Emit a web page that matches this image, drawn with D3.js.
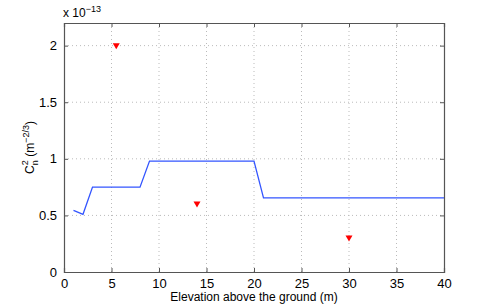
<!DOCTYPE html>
<html>
<head>
<meta charset="utf-8">
<script src="https://cdn.jsdelivr.net/npm/d3@7"></script>
<style>
  body { margin: 0; background: #fff; }
  text { font-family: "Liberation Sans", Arial, sans-serif; }
</style>
</head>
<body>
<div id="chart"></div>
<script>
// profile data (units of 1e-13)
const elevation = [1, 2, 3, 8, 9, 20, 21, 40];
const cn2Profile = [0.545, 0.51, 0.75, 0.75, 0.98, 0.98, 0.655, 0.655];
const measElevation = [5.5, 14, 30];
const measCn2 = [2.0, 0.6, 0.3];
const xTicks = [0, 5, 10, 15, 20, 25, 30, 35, 40];
const yTicks = [0, 0.5, 1, 1.5, 2];

const width = 491, height = 307;
const margin = {left: 64, right: 47, top: 23, bottom: 35};

const svg = d3.select('#chart').append('svg')
    .attr('width', width)
    .attr('height', height);

const x = d3.scaleLinear().domain([0, 40]).range([margin.left, width - margin.right]);
const y = d3.scaleLinear().domain([0, 2.2]).range([height - margin.bottom, margin.top]);

// grid
const grid = svg.append('g').attr('stroke', '#bbb').attr('stroke-dasharray', '1,3').attr('stroke-width', 1);
xTicks.slice(1, -1).forEach(t => {
    grid.append('line').attr('x1', x(t)).attr('x2', x(t)).attr('y1', y(0)).attr('y2', y(2.2));
});
yTicks.slice(1).forEach(t => {
    grid.append('line').attr('x1', x(0)).attr('x2', x(40)).attr('y1', y(t)).attr('y2', y(t));
});

// axes (ticks inward, box)
const axisColor = '#555';
const tickLen = 4;
svg.append('g').attr('transform', `translate(0,${y(0)})`)
    .call(d3.axisBottom(x).tickValues(xTicks).tickSize(-tickLen).tickPadding(7).tickFormat(d3.format('d')));
svg.append('g').attr('transform', `translate(0,${y(2.2)})`)
    .call(d3.axisTop(x).tickValues(xTicks).tickSize(-tickLen).tickFormat(''));
svg.append('g').attr('transform', `translate(${x(0)},0)`)
    .call(d3.axisLeft(y).tickValues(yTicks).tickSize(-tickLen).tickPadding(7).tickFormat(d => d));
svg.append('g').attr('transform', `translate(${x(40)},0)`)
    .call(d3.axisRight(y).tickValues(yTicks).tickSize(-tickLen).tickFormat(''));

svg.selectAll('.domain').attr('stroke', axisColor).attr('stroke-width', 1.2);
svg.selectAll('.tick line').attr('stroke', axisColor);
svg.selectAll('.tick text').attr('fill', '#000').attr('font-size', 13)
    .attr('font-family', '"Liberation Sans", Arial, sans-serif');

// profile line
const line = d3.line().x((d, i) => x(elevation[i])).y(d => y(d));
svg.append('path')
    .datum(cn2Profile)
    .attr('fill', 'none')
    .attr('stroke', '#3355ff')
    .attr('stroke-width', 1.3)
    .attr('d', line);

// measured points
svg.selectAll('.meas')
    .data(measCn2)
    .enter().append('path')
    .attr('class', 'meas')
    .attr('transform', (d, i) => `translate(${x(measElevation[i])},${y(d)})`)
    .attr('d', 'M-3.5,-2.5L3.5,-2.5L0,3.5Z')
    .attr('fill', '#ff0000');

// exponent label
const expo = svg.append('text').attr('x', 63).attr('y', 17).attr('font-size', 12);
expo.append('tspan').text('x 10');
expo.append('tspan').attr('font-size', 9).attr('dy', -5).text('\u221213');

// x label
svg.append('text')
    .attr('x', x(20)).attr('y', 301)
    .attr('text-anchor', 'middle')
    .attr('font-size', 12)
    .text('Elevation above the ground (m)');

// y label
const yl = svg.append('text')
    .attr('transform', `translate(34,${y(1.1)}) rotate(-90)`)
    .attr('text-anchor', 'middle')
    .attr('font-size', 12);
yl.append('tspan').text('C');
yl.append('tspan').attr('font-size', 9).attr('dy', -6).text('2');
yl.append('tspan').attr('font-size', 9).attr('dx', -5).attr('dy', 10).text('n');
yl.append('tspan').attr('dy', -4).text(' (m');
yl.append('tspan').attr('font-size', 9).attr('dy', -5).text('\u22122/3');
yl.append('tspan').attr('dy', 5).text(')');
</script>
</body>
</html>
